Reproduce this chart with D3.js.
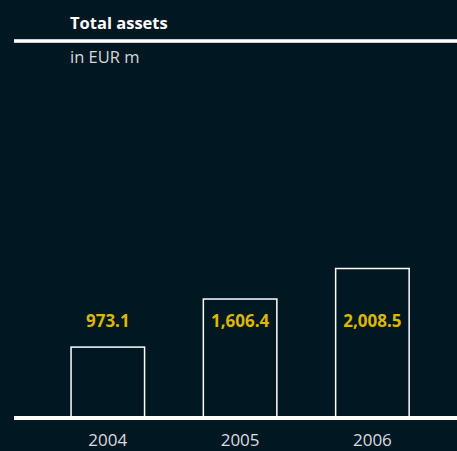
<!DOCTYPE html>
<html>
<head>
<meta charset="utf-8">
<script src="https://cdn.jsdelivr.net/npm/d3@7"></script>
<style>
  html, body { margin: 0; padding: 0; background: #011722; }
  svg { display: block; }
</style>
</head>
<body>
<svg id="chart" width="457" height="451"></svg>
<script>
// Total assets, EUR million
const years = ["2004", "2005", "2006"];
const totalAssets = [973.1, 1606.4, 2008.5];
const valueLabels = ["973.1", "1,606.4", "2,008.5"];
const title = "Total assets";
const unit = "in EUR m";

const W = 457, H = 451;
const bg = "#011722";
const gold = "#dcb800";
const font = "'Open Sans', 'Noto Sans', sans-serif";
const axisY = 418;

const svg = d3.select("#chart");
svg.append("rect").attr("width", W).attr("height", H).attr("fill", bg);

const x = d3.scaleBand()
  .domain(years)
  .range([70.3, 409.9])
  .paddingInner(0.433)
  .paddingOuter(0);

const y = d3.scaleLinear()
  .domain([0, 2500])
  .range([420.2, 230.45]);

const data = years.map((yr, i) => ({ year: yr, value: totalAssets[i], label: valueLabels[i] }));

// title and unit
svg.append("text")
  .attr("x", 70).attr("y", 29)
  .attr("fill", "#ffffff")
  .attr("font-family", font).attr("font-weight", 700).attr("font-size", 16.5)
  .text(title);

svg.append("rect")
  .attr("x", 14).attr("y", 39.2).attr("width", W - 14).attr("height", 3.6)
  .attr("fill", "#ffffff");

svg.append("text")
  .attr("x", 70).attr("y", 63)
  .attr("fill", "#d4d9dc")
  .attr("font-family", font).attr("font-size", 16.5)
  .text(unit);

// bars (outlined), standing on the baseline
svg.append("g").selectAll("rect")
  .data(data)
  .join("rect")
  .attr("x", d => x(d.year) + 0.75)
  .attr("y", d => y(d.value) + 0.75)
  .attr("width", x.bandwidth() - 1.5)
  .attr("height", d => axisY - y(d.value) - 0.75)
  .attr("fill", bg)
  .attr("stroke", "#ffffff")
  .attr("stroke-width", 1.5);

// value labels
svg.append("g").selectAll("text")
  .data(data)
  .join("text")
  .attr("x", d => x(d.year) + x.bandwidth() / 2)
  .attr("y", 327)
  .attr("text-anchor", "middle")
  .attr("fill", gold)
  .attr("font-family", font).attr("font-weight", 700).attr("font-size", 17)
  .text(d => d.label);

// baseline axis
const axis = svg.append("g")
  .attr("transform", `translate(0,${axisY})`)
  .call(d3.axisBottom(x).tickSize(0).tickPadding(0));
axis.select(".domain").remove();
axis.insert("rect", ":first-child")
  .attr("x", 14).attr("y", -2).attr("width", W - 14).attr("height", 4)
  .attr("fill", "#ffffff");
axis.selectAll(".tick text")
  .attr("y", 28)
  .attr("dy", 0)
  .attr("fill", "#d8dde0")
  .attr("font-family", font).attr("font-size", 17);
</script>
</body>
</html>
